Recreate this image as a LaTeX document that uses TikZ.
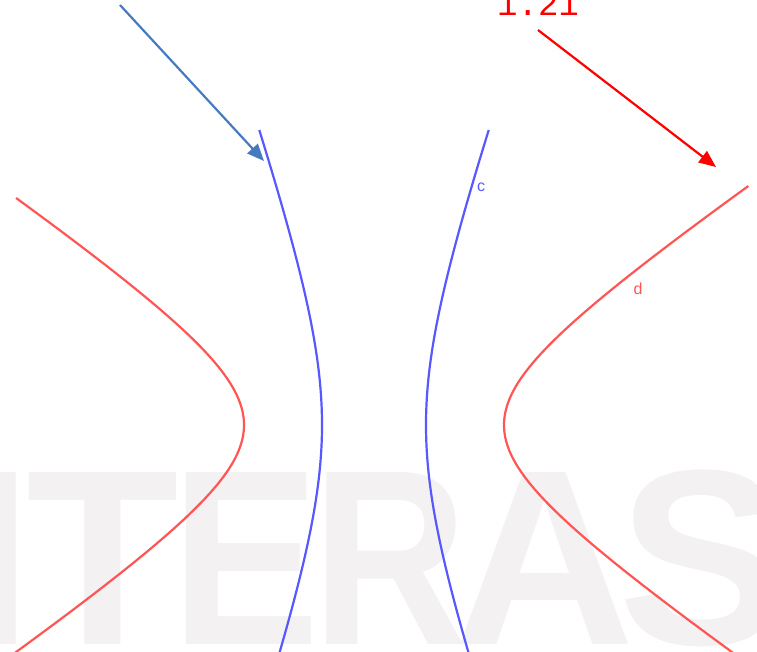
\documentclass[tikz,border=0pt]{standalone}
\usepackage{fontspec}
\setmainfont{Liberation Sans}
\setmonofont{Liberation Mono}
\usetikzlibrary{arrows.meta}
\definecolor{hypblue}{RGB}{88,88,255}
\definecolor{hypred}{RGB}{255,85,85}
\definecolor{arrowblue}{RGB}{70,122,192}
\definecolor{markgrey}{RGB}{243,241,242}

\begin{document}
\begin{tikzpicture}[x=1pt,y=-1pt,
  wmark/.style={anchor=base,inner sep=0pt,text=markgrey,font=\fontsize{250}{252}\selectfont\bfseries},
  branch/.style={line width=2.2pt,smooth,samples=90},
  pointer/.style={line width=2.2pt,-{Triangle[length=17pt,width=14pt]}}]
\path[use as bounding box] (0,0) rectangle (757,651);
\clip (0,0) rectangle (757,651);
% watermark lettering, partly cut off by the frame
\node[wmark] (wi) at (-2,644) {I};
\node[wmark] (wt) at (103,644) {T};
\node[wmark] (we) at (246,644) {\scalebox{0.89}[1]{E}};
\node[wmark] (wr) at (390,644) {\scalebox{0.86}[1]{R}};
\node[wmark] (wa) at (545,644) {A};
\node[wmark] (ws) at (702,644) {S};
% c: x^2/52^2 - y^2/150^2 = 1, d: x^2/130^2 - y^2/88.5^2 = 1, both centred at (374,425)
\draw[branch,hypblue] plot[domain=-295:235] ({374-52*sqrt(1+(\x/150)^2)},{425+\x});
\draw[branch,hypblue] plot[domain=-295:235] ({374+52*sqrt(1+(\x/150)^2)},{425+\x});
\draw[branch,hypred] plot[domain=-227:235] ({374-130*sqrt(1+(\x/88.5)^2)},{425+\x});
\draw[branch,hypred] plot[domain=-239:235] ({374+130*sqrt(1+(\x/88.5)^2)},{425+\x});
\node[text=hypblue,font=\fontsize{16}{18}\selectfont] (lc) at (481,187) {c};
\node[text=hypred,font=\fontsize{16}{18}\selectfont] (ld) at (638,289) {d};
\node[text=red,font=\ttfamily\fontsize{34}{36}\selectfont,anchor=base,inner sep=0pt] (val) at (538,15) {1.21};
\coordinate (bluetail) at (120,5);
\coordinate (bluetip) at (264,161);
\coordinate (redtail) at (538,30);
\coordinate (redtip) at (716,167);
\draw[pointer,arrowblue] (bluetail) -- (bluetip);
\draw[pointer,red] (redtail) -- (redtip);
\end{tikzpicture}
\end{document}
